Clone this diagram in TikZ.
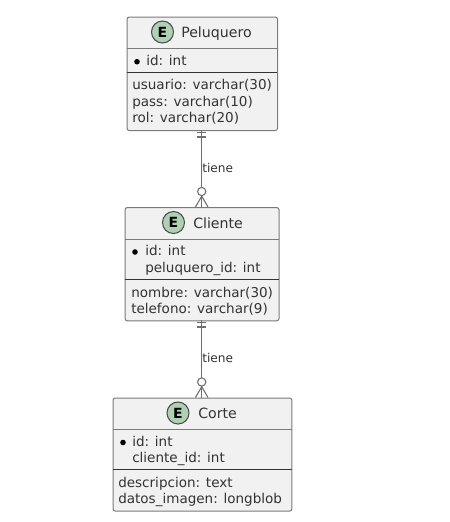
\documentclass[tikz,border=0pt]{standalone}
\usepackage{fontspec}
\setmainfont{DejaVu Sans}
\definecolor{boxfill}{HTML}{F1F1F1}
\definecolor{boxline}{HTML}{7A7A7A}
\definecolor{connline}{HTML}{6E6E6E}
\definecolor{spotfill}{HTML}{ADD1B2}
\begin{document}
\begin{tikzpicture}[x=0.75pt,y=-0.75pt,
  entity/.style={draw=boxline,line width=0.75pt,fill=boxfill,rounded corners=1.8pt,inner sep=0pt,anchor=north west},
  sep/.style={draw=black!80,line width=0.7pt},
  hline/.style={draw=boxline,line width=0.7pt},
  circE/.style={circle,draw=black!70,line width=0.8pt,fill=spotfill,minimum size=16.5pt,inner sep=0pt,font=\fontsize{10.5pt}{10.5pt}\selectfont\bfseries},
  titletxt/.style={anchor=base west,inner sep=0pt,font=\fontsize{10.6pt}{12pt}\selectfont,text=black!80},
  txt/.style={anchor=base west,inner sep=0pt,font=\fontsize{10.15pt}{12pt}\selectfont,text=black!80},
  dotn/.style={circle,fill=black,inner sep=0pt,minimum size=4.2pt},
  conn/.style={draw=connline,line width=1.1pt},
  endm/.style={draw=connline,line width=0.8pt},
  crc/.style={circle,draw=connline,line width=0.8pt,fill=white,minimum size=6.2pt,inner sep=0pt},
  lbl/.style={anchor=base west,inner sep=0pt,font=\fontsize{9.1pt}{11pt}\selectfont,text=black!80}]
\useasboundingbox (0,0) rectangle (450,522);
\node[entity,minimum width=112.9pt,minimum height=85.2pt] (pel) at (126.5,16.5) {};
\node[entity,minimum width=115.5pt,minimum height=85pt] (cli) at (124.5,207) {};
\node[entity,minimum width=134.2pt,minimum height=84.8pt] (cor) at (112.5,397.5) {};
% Peluquero
\node[circE] (e1) at (162.5,32) {E};
\node[titletxt] (t1) at (181,37) {Peluquero};
\draw[hline] (126.5,48.5) -- (277,48.5);
\node[dotn] (d1) at (137,61.7) {};
\node[txt] (p1) at (146,65.5) {id: int};
\draw[sep] (126.5,72) -- (277,72);
\node[txt] (p2) at (132,89.5) {usuario: varchar(30)};
\node[txt] (p3) at (132,106) {pass: varchar(10)};
\node[txt] (p4) at (132,122.5) {rol: varchar(20)};
% Cliente
\node[circE] (e2) at (173.5,222.5) {E};
\node[titletxt] (t2) at (193,228) {Cliente};
\draw[hline] (124.5,239) -- (278.5,239);
\node[dotn] (d2) at (135,252) {};
\node[txt] (c1) at (145,255.5) {id: int};
\node[txt] (c2) at (145,272) {peluquero\_id: int};
\draw[sep] (124.5,279) -- (278.5,279);
\node[txt] (c3) at (131,297) {nombre: varchar(30)};
\node[txt] (c4) at (131,313) {telefono: varchar(9)};
% Corte
\node[circE] (e3) at (178,413) {E};
\node[titletxt] (t3) at (198,418.5) {Corte};
\draw[hline] (112.5,429) -- (291.5,429);
\node[dotn] (d3) at (123,442.5) {};
\node[txt] (k1) at (132,446) {id: int};
\node[txt] (k2) at (132,462.5) {cliente\_id: int};
\draw[sep] (112.5,469) -- (291.5,469);
\node[txt] (k3) at (118,487.5) {descripcion: text};
\node[txt] (k4) at (118,503) {datos\_imagen: longblob};
% connectors
\coordinate (top1) at (201.7,130);
\coordinate (bot1) at (201.7,207);
\coordinate (top2) at (201.7,320);
\coordinate (bot2) at (201.7,397.5);
\draw[conn] (top1) -- (bot1);
\draw[conn] (top2) -- (bot2);
\foreach \a in {top1,top2}{
  \draw[endm] ([shift={(-4.6,2.6)}]\a) -- ++(9.2,0);
  \draw[endm] ([shift={(-4.6,7)}]\a) -- ++(9.2,0);
}
\node[crc] (r1) at (201.7,191.5) {};
\node[crc] (r2) at (201.7,382) {};
\draw[endm] (195.5,207) -- (r1.south) -- (208,207);
\draw[endm] (195.5,397.5) -- (r2.south) -- (208,397.5);
\node[lbl] (l1) at (202,172) {tiene};
\node[lbl] (l2) at (202,362.5) {tiene};
\end{tikzpicture}
\end{document}
